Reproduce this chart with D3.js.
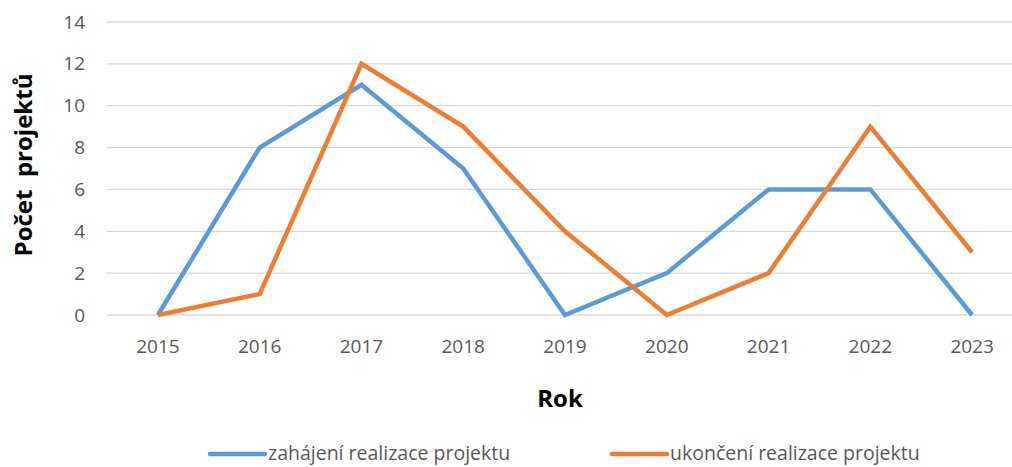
<!DOCTYPE html>
<html>
<head>
<meta charset="utf-8">
<script src="https://cdn.jsdelivr.net/npm/d3@7"></script>
<style>
  body { margin: 0; background: #fff; }
  svg { display: block; }
</style>
</head>
<body>
<div id="chart"></div>
<script>
var years = ["2015", "2016", "2017", "2018", "2019", "2020", "2021", "2022", "2023"];
var zahajeni = [0, 8, 11, 7, 0, 2, 6, 6, 0];
var ukonceni = [0, 1, 12, 9, 4, 0, 2, 9, 3];
var yTicks = [0, 2, 4, 6, 8, 10, 12, 14];
var seriesNames = ["zahájení realizace projektu", "ukončení realizace projektu"];
var colors = ["#5B9BD5", "#ED7D31"];

var W = 1012, H = 467;
var font = "'Open Sans', 'Noto Sans', sans-serif";

var svg = d3.select("#chart")
  .append("svg")
  .attr("width", W)
  .attr("height", H);

var x = d3.scaleBand()
  .domain(years)
  .range([107, 1023]);

var y = d3.scaleLinear()
  .domain([0, 14])
  .range([315, 22]);

// gridlines
svg.append("g")
  .selectAll("line")
  .data(yTicks)
  .enter()
  .append("line")
  .attr("x1", 107)
  .attr("x2", W)
  .attr("y1", function(d) { return y(d); })
  .attr("y2", function(d) { return y(d); })
  .attr("stroke", "#d9d9d9")
  .attr("stroke-width", 1.3);

// y axis labels
svg.append("g")
  .attr("transform", "translate(85,0)")
  .call(d3.axisLeft(y).tickValues(yTicks).tickSize(0).tickPadding(0))
  .call(function(g) { g.select(".domain").remove(); })
  .selectAll("text")
  .attr("font-family", font)
  .attr("font-size", "19px")
  .attr("fill", "#595959");

// x axis labels
svg.append("g")
  .attr("transform", "translate(0,339.5)")
  .call(d3.axisBottom(x).tickSize(0).tickPadding(0))
  .call(function(g) { g.select(".domain").remove(); })
  .selectAll("text")
  .attr("font-family", font)
  .attr("font-size", "19px")
  .attr("fill", "#595959");

var line = d3.line()
  .x(function(d, i) { return x(years[i]) + x.bandwidth() / 2; })
  .y(function(d) { return y(d); });

[zahajeni, ukonceni].forEach(function(s, i) {
  svg.append("path")
    .datum(s)
    .attr("fill", "none")
    .attr("stroke", colors[i])
    .attr("stroke-width", 4.5)
    .attr("stroke-linejoin", "miter")
    .attr("d", line);
});

// axis titles
svg.append("text")
  .attr("transform", "translate(32,165) rotate(-90)")
  .attr("text-anchor", "middle")
  .attr("font-family", font)
  .attr("font-weight", "bold")
  .attr("font-size", "24px")
  .attr("fill", "#000")
  .attr("xml:space", "preserve")
  .text("Počet  projektů");

svg.append("text")
  .attr("x", 560)
  .attr("y", 407)
  .attr("text-anchor", "middle")
  .attr("font-family", font)
  .attr("font-weight", "bold")
  .attr("font-size", "24px")
  .attr("fill", "#000")
  .text("Rok");

// legend
var legendX = [210, 612];
seriesNames.forEach(function(name, i) {
  var g = svg.append("g").attr("transform", "translate(" + legendX[i] + ",454)");
  g.append("line")
    .attr("x1", 0).attr("x2", 55)
    .attr("stroke", colors[i])
    .attr("stroke-width", 4.5)
    .attr("stroke-linecap", "round");
  g.append("text")
    .attr("x", 58)
    .attr("y", 6)
    .attr("font-family", font)
    .attr("font-size", "19.5px")
    .attr("fill", "#595959")
    .text(name);
});
</script>
</body>
</html>
